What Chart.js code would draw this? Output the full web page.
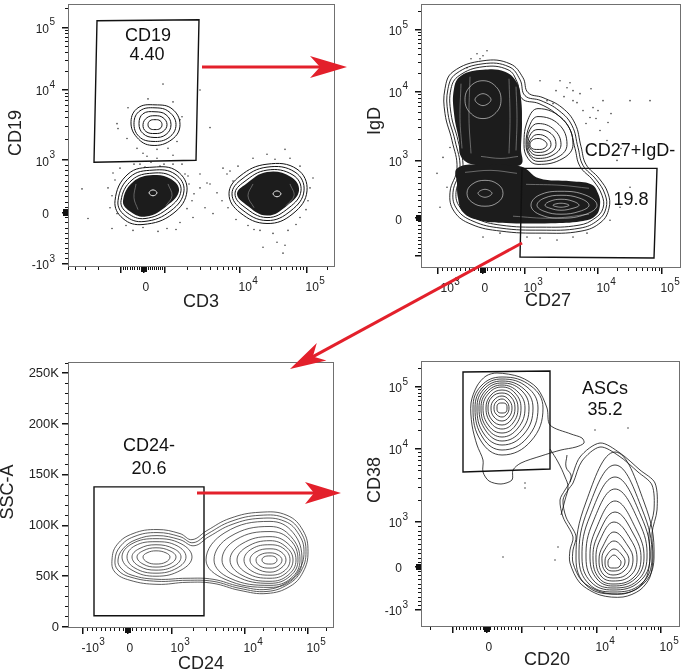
<!DOCTYPE html>
<html>
<head>
<meta charset="utf-8">
<script src="https://cdn.jsdelivr.net/npm/chart.js@4/dist/chart.umd.min.js"></script>
<style>
  html, body { margin: 0; padding: 0; background: #fff; }
  #wrap { position: relative; width: 688px; height: 671px; overflow: hidden; }
  #wrap canvas { position: absolute; }
  #c1 { left: 0; top: 0; }
  #c2 { left: 344px; top: 0; }
  #c3 { left: 0; top: 335px; }
  #c4 { left: 344px; top: 335px; }
  #arrows { position: absolute; left: 0; top: 0; }
</style>
</head>
<body>
<div id="wrap">
  <canvas id="c1" width="344" height="335"></canvas>
  <canvas id="c2" width="344" height="335"></canvas>
  <canvas id="c3" width="344" height="336"></canvas>
  <canvas id="c4" width="344" height="336"></canvas>
  <svg id="arrows" width="688" height="671">
    <g stroke="#e3202b" stroke-width="3" fill="none">
      <line x1="202" y1="67" x2="320" y2="67"/>
      <line x1="522" y1="243" x2="313" y2="356.6"/>
      <line x1="197" y1="493" x2="314" y2="493"/>
    </g>
    <g fill="#e3202b">
      <polygon points="347,67 310,56 320,67 310,78"/>
      <polygon points="290,369 326.4,360.6 312.9,356.6 316.8,343"/>
      <polygon points="341,493 305,482 314,493 305,504"/>
    </g>
  </svg>
</div>
<script>
// all positions below are in channel units of the transformed (biexponential) axes

// ---------- panel 1 : CD3 / CD19 ----------
const p1XAnchors = [53, 76, 97, 172, 239];   // -10^3, 0, 10^3, 10^4, 10^5
const p1YAnchors = [3, 55, 108, 179, 242];
const p1XLabels = [[76, '0', ''], [172, '10', '4'], [239, '10', '5']];
const p1YLabels = [[242, '10', '5'], [179, '10', '4'], [108, '10', '3'], [55, '0', ''], [3, '-10', '3']];
const p1Gate = [[29, 249], [131, 250], [128, 108], [26, 106]];
const p1GateText = ['CD19', '4.40'];
const p1GateTextAt = [[80, 234], [79, 214]];
const p1RingsLow = [
  [[119, 77], [109, 97], [85, 101], [60, 94], [47, 67], [55, 49], [75, 43], [105, 54]],
  [[116, 77], [107, 94], [85, 98], [62, 91], [50, 67], [57, 52], [76, 46], [103, 57]],
  [[113, 77], [105, 91], [85, 95], [64, 88], [53, 67], [59, 55], [77, 49], [101, 60]],
  [[239, 77], [229, 99], [199, 104], [172, 92], [161, 74], [172, 55], [199, 44], [225, 54]],
  [[236, 77], [227, 96], [199, 101], [174, 89], [164, 74], [174, 58], [199, 47], [223, 57]],
  [[233, 77], [225, 93], [199, 98], [176, 86], [167, 74], [176, 61], [199, 50], [221, 60]]
];
const p1Dense = [
  [[111, 77], [103, 89], [85, 93], [65, 86], [55, 67], [61, 57], [78, 51], [99, 62]],
  [[231, 77], [223, 91], [199, 96], [178, 84], [169, 74], [178, 63], [199, 52], [219, 62]]
];
const p1Spots = [
  [[89, 75], [85, 78], [81, 75], [85, 72]],
  [[213, 74], [209, 77], [205, 74], [209, 71]]
];
const p1Streaks = [
  [[68, 84], [66, 70], [70, 58]], [[100, 84], [104, 72], [98, 62]],
  [[185, 84], [180, 72], [186, 60]], [[222, 84], [226, 72], [218, 62]]
];
const p1RingsB = [
  [[112, 144], [104, 160], [87, 164], [70, 161], [63, 147], [69, 131], [84, 123], [104, 129]],
  [[108, 144], [101, 157], [87, 161], [72, 158], [66, 146], [71, 132], [85, 127], [101, 131]],
  [[103, 144], [98, 154], [87, 157], [75, 155], [71, 145], [75, 135], [86, 131], [98, 134]],
  [[99, 144], [95, 151], [87, 153], [79, 151], [75, 144], [78, 137], [87, 135], [95, 137]],
  [[94, 144], [92, 148], [87, 149], [82, 148], [80, 144], [82, 140], [87, 139], [92, 140]]
];
const p1Dots = [
  [95, 185], [132, 179], [80, 170], [105, 167], [60, 161], [49, 145], [50, 140], [112, 149], [114, 152], [59, 130],
  [69, 120], [75, 115], [89, 119], [100, 120], [109, 127], [89, 110], [79, 112], [105, 113], [142, 141],
  [14, 79], [20, 49], [44, 39], [65, 37], [75, 40], [112, 45], [119, 59], [124, 67], [117, 94], [114, 104],
  [105, 104], [72, 104], [77, 101], [132, 80], [139, 85], [125, 50], [99, 39], [49, 54], [40, 80], [42, 60],
  [90, 36], [58, 42], [142, 84], [149, 75], [154, 67], [159, 94], [162, 97], [165, 87], [137, 60], [145, 54],
  [185, 110], [199, 114], [217, 119], [222, 110], [232, 102], [242, 80], [240, 67], [192, 37], [195, 20],
  [205, 34], [215, 14], [217, 22], [209, 25], [232, 50], [220, 37], [132, 94], [121, 84], [126, 74], [45, 95],
  [52, 100], [96, 104], [108, 38], [160, 60], [170, 102], [245, 90], [207, 109], [180, 42], [228, 43],
  [66, 104], [83, 106], [92, 102], [120, 92], [44, 72], [47, 88], [155, 100], [168, 48], [186, 38], [238, 58]
];

// ---------- panel 2 : CD27 / IgD ----------
const p2XAnchors = [17, 62, 104, 177, 241];
const p2YAnchors = [12, 50, 108, 177, 239];
const p2XLabels = [[17, '-10', '3'], [62, '0', ''], [104, '10', '3'], [177, '10', '4'], [241, '10', '5']];
const p2YLabels = [[239, '10', '5'], [177, '10', '4'], [108, '10', '3'], [50, '0', '']];
const p2Gate = [[101, 100], [236, 100], [233, 10], [99, 11]];
const p2GateText = ['CD27+IgD-', '19.8'];
const p2GateTextAt = [[209, 117], [210, 68]];
const p2Outer = [
  [[62, 208], [89, 205], [102, 191], [107, 176], [122, 171], [141, 161], [154, 145], [160, 122], [165, 104], [178, 90], [187, 75], [188, 60], [180, 46], [160, 37], [120, 35], [80, 37], [50, 44], [33, 57], [29, 76], [36, 100], [31, 128], [24, 155], [24, 180], [32, 197]],
  [[62, 205], [88, 202], [99, 189], [104, 173], [120, 168], [138, 158], [151, 143], [157, 121], [162, 103], [175, 89], [184, 74], [185, 60], [177, 48], [159, 40], [120, 38], [80, 40], [52, 47], [36, 59], [32, 76], [39, 100], [34, 128], [27, 155], [27, 180], [35, 195]],
  [[62, 202], [87, 199], [96, 187], [101, 170], [118, 165], [135, 155], [148, 141], [154, 120], [159, 102], [172, 88], [181, 73], [182, 60], [174, 50], [158, 43], [120, 41], [80, 43], [54, 50], [39, 61], [35, 76], [42, 100], [37, 128], [30, 155], [30, 180], [38, 193]]
];
const p2Shoulder = [
  [[152, 124], [142, 149], [117, 160], [107, 149], [103, 124], [107, 110], [117, 104], [142, 110]],
  [[146, 124], [138, 144], [117, 152], [109, 144], [105, 124], [109, 112], [117, 107], [138, 112]],
  [[140, 124], [133, 139], [117, 145], [109, 139], [106, 124], [109, 114], [117, 110], [133, 114]],
  [[135, 124], [130, 135], [117, 139], [110, 135], [107, 124], [110, 116], [117, 113], [130, 116]],
  [[130, 124], [126, 131], [117, 134], [111, 131], [108, 124], [111, 118], [117, 116], [126, 118]],
  [[126, 124], [123, 128], [117, 130], [111, 128], [109, 124], [111, 120], [117, 119], [123, 120]]
];
const p2Dense = [
  [[62, 199], [84, 197], [96, 186], [100, 170], [101, 145], [100, 120], [100, 104], [80, 104], [52, 104], [40, 112], [38, 128], [33, 155], [33, 180], [40, 193]],
  [[36, 100], [60, 104], [100, 102], [118, 90], [150, 87], [170, 84], [177, 75], [179, 63], [174, 52], [160, 47], [130, 45], [90, 45], [58, 48], [42, 56], [37, 70], [36, 85]]
];
const p2Light = [
  [[80, 169], [75, 182], [62, 188], [49, 182], [44, 169], [49, 156], [62, 150], [75, 156]],
  [[70, 169], [62, 175], [54, 169], [62, 163]],
  [[82, 75], [77, 84], [64, 88], [51, 84], [46, 75], [51, 66], [64, 62], [77, 66]],
  [[71, 75], [64, 79], [57, 75], [64, 71]],
  [[176, 63], [165, 73], [140, 77], [118, 73], [110, 63], [118, 54], [140, 50], [165, 54]],
  [[168, 63], [159, 70], [140, 73], [123, 70], [116, 63], [123, 57], [140, 54], [159, 57]],
  [[158, 63], [152, 67], [140, 69], [129, 67], [124, 63], [129, 60], [140, 58], [152, 60]],
  [[148, 63], [140, 65], [132, 63], [140, 61]]
];
const p2Streaks = [
  [[40, 185], [39, 150], [41, 120]], [[49, 192], [48, 150], [50, 115]], [[88, 190], [89, 150], [88, 115]],
  [[95, 182], [96, 150], [95, 118]], [[60, 112], [80, 110], [97, 112]], [[105, 84], [140, 83], [168, 80]],
  [[92, 52], [130, 50], [168, 54]], [[44, 96], [70, 98], [96, 95]]
];
const p2Dots = [
  [56, 215], [62, 213], [59, 210], [46, 201], [119, 188], [139, 188], [149, 186], [146, 181], [152, 178], [126, 168],
  [132, 165], [162, 158], [172, 161], [182, 168], [209, 168], [229, 168], [159, 175], [169, 151], [152, 168], [179, 138],
  [186, 128], [196, 108], [19, 61], [26, 81], [22, 111], [29, 121], [166, 35], [152, 31], [136, 28], [119, 30],
  [209, 81], [199, 61], [189, 48], [79, 35], [62, 31], [106, 31], [16, 95], [66, 218], [50, 210], [165, 145],
  [175, 150], [190, 155], [200, 120], [135, 178], [143, 172], [156, 166], [177, 158], [187, 146], [170, 180]
];

// ---------- panel 3 : CD24 / SSC-A ----------
const p3XAnchors = [15, 60, 104, 177, 240];
const p3XLabels = [[15, '-10', '3'], [60, '0', ''], [104, '10', '3'], [177, '10', '4'], [240, '10', '5']];
const p3YMajor = [0, 50, 100, 150, 200, 250];          // SSC-A in thousands
const p3YText = ['0', '50K', '100K', '150K', '200K', '250K'];
const p3Gate = [[26, 138], [136, 138], [136, 11], [26, 11]];
const p3GateText = ['CD24-', '20.6'];
const p3GateTextAt = [[81, 178], [81, 156]];
const p3Joint = [
  [[44, 66], [49, 81], [65, 92], [89, 96], [112, 92], [124, 86], [139, 95], [162, 107], [192, 113], [219, 110], [235, 95], [240, 74], [235, 54], [222, 40], [199, 33], [172, 36], [145, 43], [119, 44], [89, 42], [62, 46], [47, 54]],
  [[47, 66], [52, 79], [66, 89], [89, 93], [112, 89], [125, 83], [140, 92], [163, 104], [192, 110], [218, 107], [233, 93], [238, 74], [233, 55], [220, 42], [199, 35], [172, 38], [145, 45], [119, 46], [89, 45], [63, 49], [50, 56]],
  [[50, 66], [55, 77], [68, 86], [89, 90], [112, 86], [126, 80], [141, 89], [164, 101], [192, 107], [217, 104], [231, 91], [236, 74], [231, 56], [219, 44], [199, 37], [172, 40], [145, 47], [119, 48], [89, 47], [64, 51], [53, 58]]
];
const p3Left = [
  [[124, 69], [113, 82], [88, 87], [64, 82], [54, 69], [64, 56], [88, 50], [113, 56]],
  [[118, 69], [109, 80], [88, 84], [67, 80], [59, 69], [67, 58], [88, 53], [109, 58]],
  [[113, 69], [106, 77], [88, 81], [71, 77], [64, 69], [71, 60], [88, 56], [106, 60]],
  [[108, 69], [102, 75], [88, 78], [75, 75], [69, 69], [75, 62], [88, 59], [102, 62]],
  [[102, 69], [98, 73], [88, 75], [79, 73], [75, 69], [79, 64], [88, 62], [98, 64]]
];
const p3Right = [
  [[234, 66], [225, 93], [202, 104], [157, 93], [138, 66], [157, 47], [202, 39], [225, 47]],
  [[232, 66], [223, 89], [202, 99], [162, 89], [146, 66], [162, 48], [202, 41], [223, 48]],
  [[230, 66], [222, 86], [202, 94], [168, 86], [154, 66], [168, 50], [202, 43], [222, 50]],
  [[228, 66], [220, 82], [202, 89], [174, 82], [162, 66], [174, 51], [202, 45], [220, 51]],
  [[225, 66], [218, 79], [202, 85], [179, 79], [169, 66], [179, 53], [202, 48], [218, 53]],
  [[222, 66], [216, 77], [202, 81], [184, 77], [176, 66], [184, 55], [202, 51], [216, 55]],
  [[218, 66], [213, 74], [202, 77], [188, 74], [182, 66], [188, 58], [202, 54], [213, 58]],
  [[214, 66], [210, 71], [202, 73], [192, 71], [188, 66], [192, 60], [202, 58], [210, 60]],
  [[209, 66], [207, 69], [202, 70], [196, 69], [194, 66], [196, 63], [202, 62], [207, 63]]
];

// ---------- panel 4 : CD20 / CD38 ----------
const p4XAnchors = [32, 66, 101, 176, 240];
const p4YAnchors = [17, 60, 105, 178, 240];
const p4XLabels = [[66, '0', ''], [176, '10', '4'], [240, '10', '5']];
const p4YLabels = [[240, '10', '5'], [178, '10', '4'], [105, '10', '3'], [60, '0', ''], [17, '-10', '3']];
const p4Gate = [[42, 255], [129, 256], [129, 158], [42, 155]];
const p4GateText = ['ASCs', '35.2'];
const p4GateTextAt = [[184, 238], [184, 217]];
const p4Outer = [
  [[76, 254], [99, 250], [116, 239], [126, 219], [129, 202], [150, 193], [161, 189], [163, 184], [155, 180], [140, 177], [120, 171], [100, 164], [92, 157], [91, 147], [80, 143], [68, 146], [62, 155], [62, 167], [56, 182], [51, 202], [50, 224], [56, 241], [65, 251]],
  [[149, 145], [159, 170], [179, 184], [199, 174], [219, 157], [234, 144], [236, 117], [231, 94], [232, 70], [229, 50], [219, 37], [202, 30], [179, 32], [159, 44], [149, 64], [149, 77], [152, 90], [142, 110], [139, 127], [144, 137]],
  [[152, 144], [161, 166], [179, 180], [198, 171], [217, 155], [231, 142], [233, 117], [228, 94], [229, 70], [226, 51], [217, 39], [202, 33], [180, 35], [161, 46], [152, 64], [152, 77], [155, 91], [145, 110], [142, 127], [147, 137]]
];
const p4Bridges = [
  [[146, 172], [145, 160], [150, 152], [149, 145]],
  [[129, 178], [137, 165], [144, 150], [147, 140], [144, 127], [140, 112]]
];
const p4TopRings = [
  [[122, 219], [110, 241], [81, 250], [60, 241], [52, 219], [60, 186], [81, 172], [110, 186]],
  [[117, 219], [106, 240], [81, 248], [62, 240], [54, 219], [62, 189], [81, 177], [106, 189]],
  [[112, 219], [103, 238], [81, 246], [63, 238], [56, 219], [63, 193], [81, 182], [103, 193]],
  [[108, 219], [100, 237], [81, 244], [65, 237], [58, 219], [65, 196], [81, 186], [100, 196]],
  [[104, 219], [97, 235], [81, 242], [66, 235], [60, 219], [66, 199], [81, 190], [97, 199]],
  [[100, 219], [94, 234], [81, 240], [68, 234], [62, 219], [68, 201], [81, 194], [94, 201]],
  [[97, 219], [92, 232], [81, 237], [70, 232], [65, 219], [70, 204], [81, 198], [92, 204]],
  [[94, 219], [90, 230], [81, 234], [71, 230], [67, 219], [71, 207], [81, 202], [90, 207]],
  [[91, 219], [88, 227], [81, 231], [73, 227], [70, 219], [73, 210], [81, 206], [88, 210]],
  [[88, 219], [86, 225], [81, 228], [75, 225], [73, 219], [75, 213], [81, 210], [86, 213]],
  [[86, 219], [85, 223], [81, 224], [77, 223], [76, 219], [77, 215], [81, 214], [85, 215]]
];
const p4LowRings = [
  [[233, 69], [223, 125], [194, 175], [165, 125], [155, 69], [165, 42], [192, 33], [221, 42]],
  [[231, 69], [221, 118], [194, 162], [167, 118], [158, 69], [168, 43], [192, 35], [220, 43]],
  [[229, 69], [220, 111], [194, 150], [169, 111], [161, 69], [170, 45], [192, 37], [218, 45]],
  [[226, 69], [218, 105], [194, 138], [172, 105], [165, 69], [173, 46], [192, 39], [216, 46]],
  [[223, 69], [215, 98], [194, 126], [175, 98], [169, 69], [176, 48], [192, 41], [214, 48]],
  [[220, 68], [213, 92], [194, 115], [177, 92], [172, 68], [178, 49], [192, 43], [212, 49]],
  [[216, 67], [210, 87], [193, 105], [179, 87], [175, 67], [180, 51], [192, 46], [209, 51]],
  [[212, 67], [207, 81], [193, 95], [182, 81], [178, 67], [182, 53], [192, 49], [206, 53]],
  [[208, 66], [204, 76], [193, 86], [183, 76], [181, 66], [184, 56], [192, 52], [203, 56]],
  [[204, 65], [201, 72], [193, 78], [186, 72], [184, 65], [186, 58], [192, 56], [200, 58]],
  [[200, 65], [198, 68], [193, 72], [188, 68], [187, 65], [188, 60], [192, 59], [198, 60]]
];
const p4Dots = [[174, 197], [207, 199], [104, 144], [104, 139], [137, 80], [134, 67], [82, 70]];

const FONT = '"Liberation Sans", Arial, Helvetica, sans-serif';

function pts(list) {
  return list.map(p => ({ x: p[0], y: p[1] }));
}
function rings(list, color, width, order, tension) {
  return list.map(r => ({
    data: pts(r), borderColor: color, borderWidth: width, pointRadius: 0,
    tension: tension === undefined ? 0.42 : tension, fill: false, closed: true, order: order
  }));
}
function openLines(list, color, width, order) {
  return list.map(r => ({
    data: pts(r), borderColor: color, borderWidth: width, pointRadius: 0, tension: 0.4, fill: false, order: order
  }));
}
function dense(list, color) {
  return list.map(r => ({
    data: pts(r), borderColor: color, borderWidth: 0, backgroundColor: color, pointRadius: 0,
    tension: 0.42, fill: 'shape', closed: true, order: 2
  }));
}
function gate(list) {
  return { data: pts(list), borderColor: '#111', borderWidth: 1.4, pointRadius: 0, tension: 0, fill: false, closed: true, order: 0 };
}
function dots(list) {
  return { data: pts(list), showLine: false, pointRadius: 0.8, pointBackgroundColor: '#444', pointBorderWidth: 0, order: 5 };
}
function notes(text, at) {
  return text.map((t, i) => ({ t: t, x: at[i][0], y: at[i][1] }));
}

// make the contour lines closed loops
const closeRings = {
  id: 'closeRings',
  afterDatasetUpdate(chart, args) {
    const ds = chart.data.datasets[args.index];
    if (ds && ds.closed && args.meta.dataset) {
      args.meta.dataset._loop = true;
      args.meta.dataset._fullLoop = true;
    }
  }
};

// tick positions of a biexponential axis: [value, length, width]
function bexTicks(an, min, max) {
  const out = [];
  const d1 = an[3] - an[2], d2 = an[4] - an[3];
  for (let i = 0; i < an.length; i++) out.push([an[i], 6, 1.5]);
  for (let k = 2; k < 10; k++) {
    const l = Math.log10(k);
    out.push([an[2] + l * d1, 3, 1], [an[3] + l * d2, 3, 1], [an[4] + l * d2, 3, 1], [an[0] - l * d1, 3, 1]);
  }
  for (let k = 1; k < 10; k++) {
    out.push([an[1] + (an[2] - an[1]) * k / 10, 3, 1], [an[1] - (an[1] - an[0]) * k / 10, 3, 1]);
  }
  for (let k = -4; k <= 4; k++) out.push([an[1] + k * 0.7, 5, 1]);
  return out.filter(t => t[0] >= min && t[0] <= max);
}

function drawPow(ctx, x, y, base, sup, alignRight) {
  ctx.font = '12px ' + FONT;
  const w = ctx.measureText(base).width;
  const x0 = alignRight ? x - w : x;
  ctx.textAlign = 'left';
  ctx.fillText(base, x0, y);
  if (sup) {
    ctx.font = '10px ' + FONT;
    ctx.fillText(sup, x0 + w + 0.5, y - 7);
  }
}

const flowAxes = {
  id: 'flowAxes',
  afterDatasetsDraw(chart, args, o) {
    const ctx = chart.ctx, a = chart.chartArea;
    const xs = chart.scales.x, ys = chart.scales.y;
    ctx.save();
    ctx.strokeStyle = '#707070';
    ctx.lineWidth = 1;
    ctx.strokeRect(a.left + 0.5, a.top + 0.5, a.right - a.left - 1, a.bottom - a.top - 1);

    // tick marks
    ctx.fillStyle = '#111';
    const xt = bexTicks(Array.from(o.x.anchors), xs.min, xs.max);
    xt.forEach(t => {
      const p = xs.getPixelForValue(t[0]);
      ctx.fillRect(Math.round(p - t[2] / 2), a.bottom, t[2], t[1]);
    });
    let yt;
    if (o.y.linear) {
      yt = [];
      const major = Array.from(o.y.major);
      for (let v = 0; v <= ys.max; v += o.y.minorStep) yt.push(major.indexOf(v) >= 0 ? [v, 6, 1.5] : [v, 3, 1]);
    } else {
      yt = bexTicks(Array.from(o.y.anchors), ys.min, ys.max);
    }
    yt.forEach(t => {
      const p = ys.getPixelForValue(t[0]);
      ctx.fillRect(a.left - t[1], Math.round(p - t[2] / 2), t[1], t[2]);
    });

    // tick labels
    ctx.fillStyle = '#222';
    ctx.textBaseline = 'middle';
    o.x.labels.forEach(l => {
      drawPow(ctx, xs.getPixelForValue(l[0]) - 1.5, a.bottom + 21, l[1], l[2], false);
    });
    if (o.y.linear) {
      ctx.font = '13px ' + FONT;
      ctx.textAlign = 'right';
      o.y.major.forEach((v, i) => ctx.fillText(o.y.text[i], a.left - 9, ys.getPixelForValue(v)));
    } else {
      o.y.labels.forEach(l => {
        drawPow(ctx, a.left - 19, ys.getPixelForValue(l[0]) + 2, l[1], l[2], true);
      });
    }

    // axis titles
    ctx.font = '18px ' + FONT;
    ctx.textAlign = 'center';
    ctx.fillText(o.x.title, o.x.tx, o.x.ty);
    ctx.save();
    ctx.translate(o.y.tx, o.y.ty);
    ctx.rotate(-Math.PI / 2);
    ctx.fillText(o.y.title, 0, 0);
    ctx.restore();

    // gate name and percentage
    ctx.fillStyle = '#111';
    o.notes.forEach(n => ctx.fillText(n.t, xs.getPixelForValue(n.x), ys.getPixelForValue(n.y)));
    ctx.restore();
  }
};

function makePanel(id, s) {
  return new Chart(document.getElementById(id), {
    type: 'line',
    data: { datasets: s.datasets },
    options: {
      responsive: false,
      animation: false,
      events: [],
      layout: { padding: s.pad },
      scales: {
        x: { type: 'linear', min: s.x[0], max: s.x[1], display: false },
        y: { type: 'linear', min: s.y[0], max: s.y[1], display: false }
      },
      plugins: {
        legend: { display: false },
        tooltip: { enabled: false },
        flowAxes: s.axes
      }
    },
    plugins: [closeRings, flowAxes]
  });
}

makePanel('c1', {
  pad: { left: 68, top: 1, right: 9, bottom: 68 },
  x: [0, 267], y: [0, 266],
  datasets: [].concat(
    [gate(p1Gate)],
    rings(p1Spots, '#f2f2f2', 1, 1),
    openLines(p1Streaks, 'rgba(150,150,150,0.6)', 1, 1),
    dense(p1Dense, '#1c1c1c'),
    rings(p1RingsLow, '#111', 1, 3),
    rings(p1RingsB, '#111', 1, 3),
    [dots(p1Dots)]
  ),
  axes: {
    x: { anchors: p1XAnchors, labels: p1XLabels, title: 'CD3', tx: 201, ty: 302 },
    y: { anchors: p1YAnchors, labels: p1YLabels, title: 'CD19', tx: 16, ty: 133 },
    notes: notes(p1GateText, p1GateTextAt)
  }
});

makePanel('c2', {
  pad: { left: 77, top: 3, right: 7, bottom: 67 },
  x: [0, 260], y: [0, 265],
  datasets: [].concat(
    [gate(p2Gate)],
    rings(p2Light, 'rgba(255,255,255,0.6)', 0.9, 1),
    openLines(p2Streaks, 'rgba(170,170,170,0.55)', 1, 1),
    dense(p2Dense, '#1c1c1c'),
    rings(p2Outer, '#111', 0.9, 3),
    rings(p2Shoulder, '#111', 0.9, 3),
    [dots(p2Dots)]
  ),
  axes: {
    x: { anchors: p2XAnchors, labels: p2XLabels, title: 'CD27', tx: 204, ty: 301 },
    y: { anchors: p2YAnchors, labels: p2YLabels, title: 'IgD', tx: 31, ty: 121 },
    notes: notes(p2GateText, p2GateTextAt)
  }
});

makePanel('c3', {
  pad: { left: 68, top: 27, right: 10, bottom: 43 },
  x: [0, 266], y: [-1, 261],
  datasets: [].concat(
    [gate(p3Gate)],
    rings(p3Joint, '#333', 0.8, 3),
    rings(p3Left, '#333', 0.8, 3),
    rings(p3Right, '#333', 0.8, 3)
  ),
  axes: {
    x: { anchors: p3XAnchors, labels: p3XLabels, title: 'CD24', tx: 201, ty: 329 },
    y: { linear: true, major: p3YMajor, text: p3YText, minorStep: 10, title: 'SSC-A', tx: 8, ty: 157 },
    notes: notes(p3GateText, p3GateTextAt)
  }
});

makePanel('c4', {
  pad: { left: 77, top: 26, right: 8, bottom: 44 },
  x: [0, 259], y: [0, 266],
  datasets: [].concat(
    [gate(p4Gate)],
    rings(p4Outer, '#111', 0.8, 3, 0.3),
    openLines(p4Bridges, '#111', 0.8, 3),
    rings(p4TopRings, '#111', 0.8, 3),
    rings(p4LowRings, '#111', 0.8, 3),
    [dots(p4Dots)]
  ),
  axes: {
    x: { anchors: p4XAnchors, labels: p4XLabels, title: 'CD20', tx: 203, ty: 325 },
    y: { anchors: p4YAnchors, labels: p4YLabels, title: 'CD38', tx: 31, ty: 145 },
    notes: notes(p4GateText, p4GateTextAt)
  }
});
</script>
</body>
</html>
